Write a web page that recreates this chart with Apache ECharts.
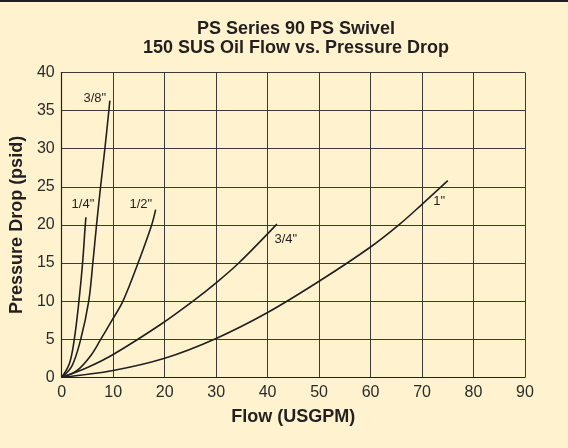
<!DOCTYPE html>
<html>
<head>
<meta charset="utf-8">
<script src="https://cdn.jsdelivr.net/npm/echarts@6/dist/echarts.min.js"></script>
<style>
  html, body { margin: 0; padding: 0; background: #fff3cf; }
  #wrap { position: relative; width: 568px; height: 448px; background: #fff3cf; overflow: hidden; }
  #topbar { position: absolute; left: 0; top: 0; width: 568px; height: 2px; background: #231f20; z-index: 2; }
  #chart { position: absolute; left: 0; top: 0; width: 568px; height: 448px; }
</style>
</head>
<body>
<div id="wrap"><div id="topbar"></div><div id="chart"></div></div>
<script>
// ---- Data ----
const titleLines = ['PS Series 90 PS Swivel', '150 SUS Oil Flow vs. Pressure Drop'];
const xName = 'Flow (USGPM)';
const yName = 'Pressure Drop (psid)';
const xTicks = [0, 10, 20, 30, 40, 50, 60, 70, 80, 90];
const yTicks = [0, 5, 10, 15, 20, 25, 30, 35, 40];

const seriesNames = ['1/4"', '3/8"', '1/2"', '3/4"', '1"'];

const flowQuarter   = [0, 1.5, 2.45, 3.35, 4.06, 4.58, 4.71];
const pdQuarter     = [0, 1.8, 5, 10, 15, 20, 21];

const flowThreeEighth = [0, 2, 3.7, 5.25, 6.05, 6.77, 7.55, 8.39, 9.16, 9.35];
const pdThreeEighth   = [0, 1.5, 5, 10, 15, 20, 25, 30, 35, 36.3];

const flowHalf = [0, 3, 5.7, 7.6, 9.7, 11.9, 14.84, 17.48, 18.25];
const pdHalf   = [0, 0.9, 2.9, 5, 7.4, 10, 15, 20, 22];

const flowThreeQuarter = [0, 5, 10, 19.35, 25.5, 30, 34.4, 41.8];
const pdThreeQuarter   = [0, 1.3, 3.0, 7.0, 10, 12.4, 15, 20.1];

const flowOne = [0, 10, 20, 30, 40, 50, 60, 65.5, 70, 75];
const pdOne   = [0, 0.9, 2.5, 5.1, 8.5, 12.6, 17.1, 20, 22.7, 25.8];

const flows = [flowQuarter, flowThreeEighth, flowHalf, flowThreeQuarter, flowOne];
const pds   = [pdQuarter, pdThreeEighth, pdHalf, pdThreeQuarter, pdOne];

// ---- Styling (label offsets relative to each curve's end point, in px) ----
const labelOffsets = [[-3, -12.6], [-15, -2.6], [-14.8, -5.5], [9, 15], [-8.5, 21.2]];

const FONT = '"Liberation Sans", Arial, Helvetica, sans-serif';
const INK = '#231f20';
const GRID = '#3a3a3a';

const series = seriesNames.map((name, i) => {
  const f = flows[i], p = pds[i];
  const pts = f.map((x, k) => [x, p[k]]);
  const last = pts[pts.length - 1];
  return {
    name: name,
    type: 'line',
    data: pts,
    smooth: 0.35,
    showSymbol: false,
    symbol: 'none',
    lineStyle: { color: INK, width: 1.6 },
    silent: true,
    animation: false,
    markPoint: {
      silent: true,
      animation: false,
      symbol: 'circle',
      symbolSize: 1,
      itemStyle: { color: 'rgba(0,0,0,0)' },
      label: {
        show: true,
        position: 'inside',
        formatter: name,
        offset: labelOffsets[i],
        color: INK,
        fontSize: 13,
        fontFamily: FONT
      },
      data: [{ coord: last }]
    }
  };
});

const chart = echarts.init(document.getElementById('chart'), null, { renderer: 'canvas' });
chart.setOption({
  backgroundColor: 'transparent',
  animation: false,
  title: {
    text: titleLines.join('\n'),
    left: 291,
    top: 15,
    textAlign: 'center',
    textStyle: {
      fontFamily: FONT,
      fontSize: 18,
      fontWeight: 'bold',
      lineHeight: 19,
      color: INK
    }
  },
  grid: { left: 60, right: 43, top: 72.5, bottom: 70.7, containLabel: false },
  xAxis: {
    type: 'value',
    min: xTicks[0],
    max: xTicks[xTicks.length - 1],
    interval: xTicks[1] - xTicks[0],
    name: xName,
    nameLocation: 'middle',
    nameGap: 31,
    nameTextStyle: { fontFamily: FONT, fontSize: 18, fontWeight: 'bold', color: INK },
    axisLine: { show: true, lineStyle: { color: INK, width: 1.2 } },
    axisTick: { show: false },
    axisLabel: { fontFamily: FONT, fontSize: 16, color: '#2b2b2b', margin: 7 },
    splitLine: { show: true, lineStyle: { color: GRID, width: 1 } }
  },
  yAxis: {
    type: 'value',
    min: yTicks[0],
    max: yTicks[yTicks.length - 1],
    interval: yTicks[1] - yTicks[0],
    name: yName,
    nameLocation: 'middle',
    nameGap: 29,
    nameTextStyle: { fontFamily: FONT, fontSize: 18, fontWeight: 'bold', color: INK },
    axisLine: { show: true, lineStyle: { color: INK, width: 1.2 } },
    axisTick: { show: false },
    axisLabel: { fontFamily: FONT, fontSize: 16, color: '#2b2b2b', margin: 7 },
    splitLine: { show: true, lineStyle: { color: GRID, width: 1 } }
  },
  series: series
});
</script>
</body>
</html>
